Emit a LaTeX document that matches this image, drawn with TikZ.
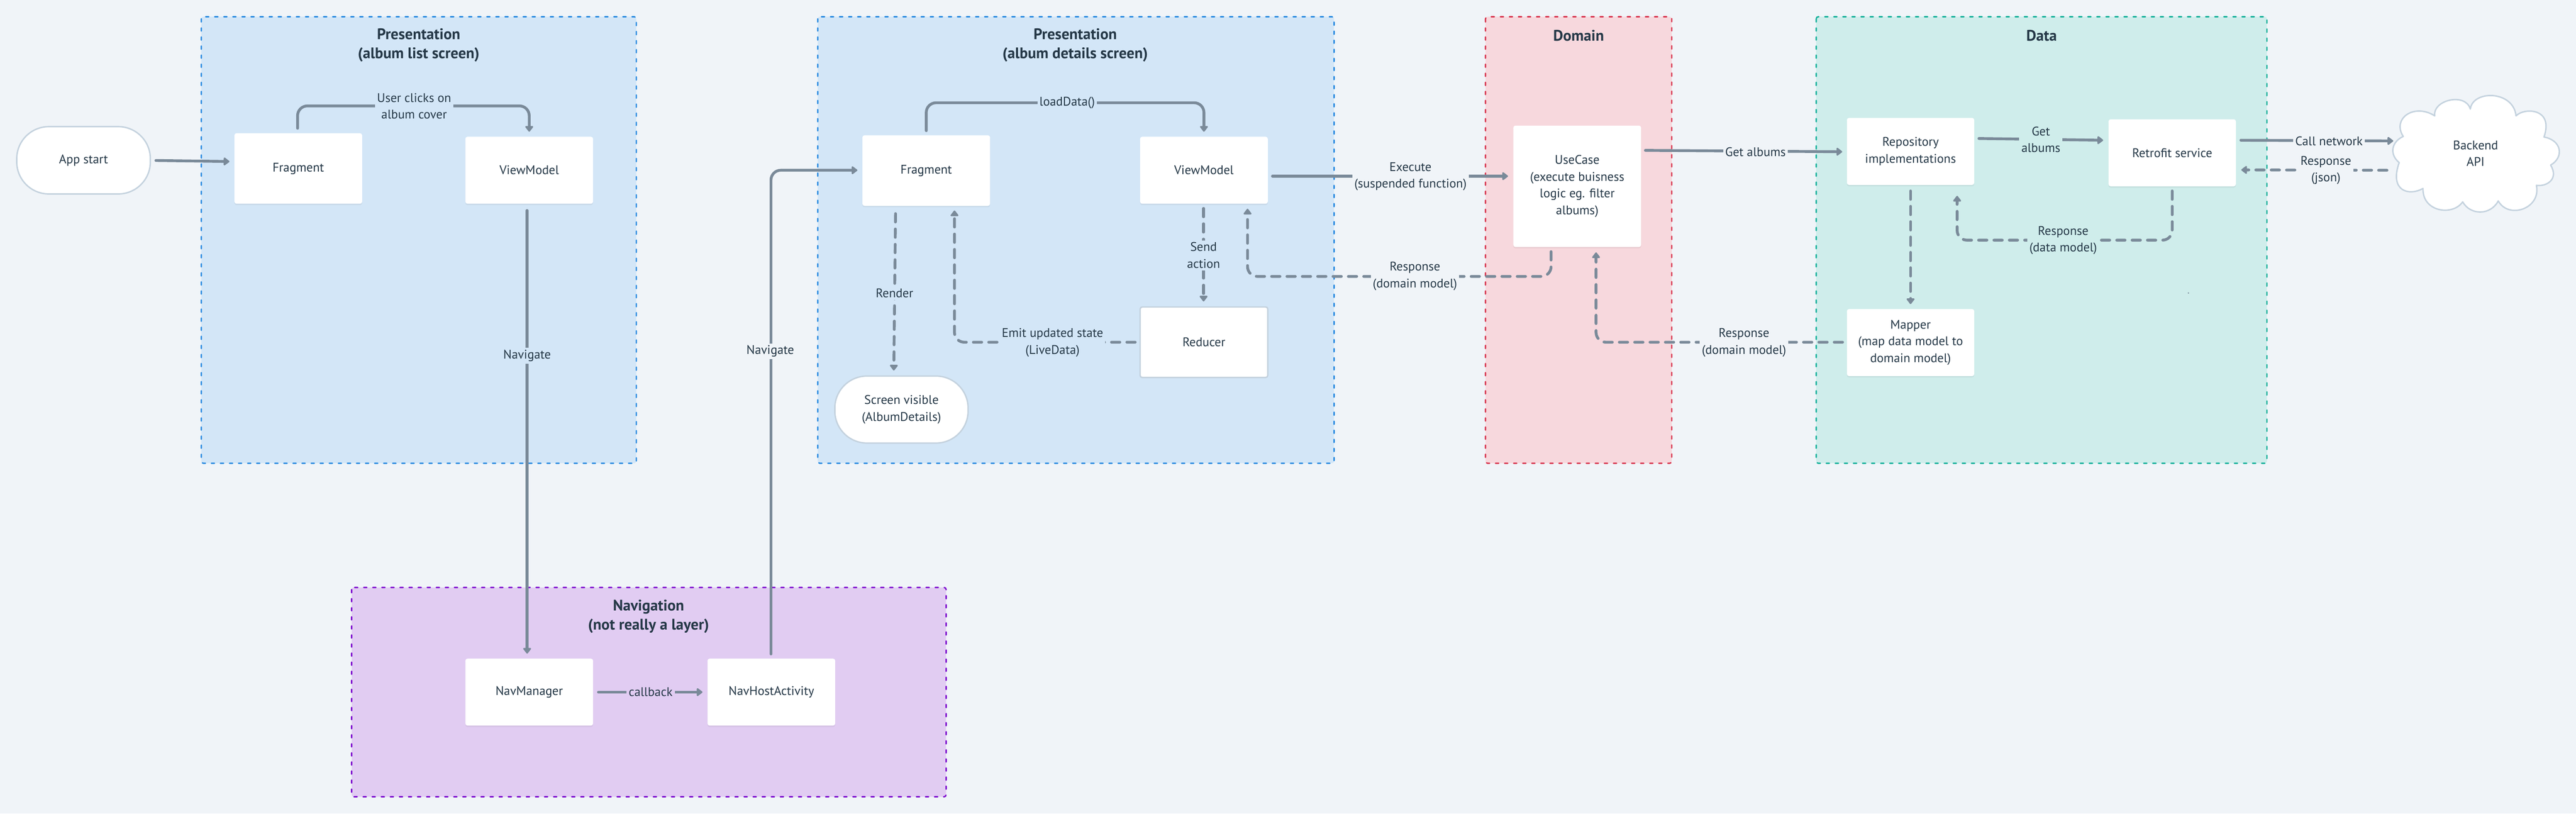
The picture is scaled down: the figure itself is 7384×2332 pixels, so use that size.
\documentclass[tikz,border=0pt]{standalone}
\usepackage{fontspec}
\setmainfont{PT Sans}
\usetikzlibrary{arrows.meta,calc,shadows}
\definecolor{bgc}{HTML}{F0F4F8}
\definecolor{pblue}{HTML}{D3E6F7}
\definecolor{bblue}{HTML}{2B8BE0}
\definecolor{ppink}{HTML}{F7D8DD}
\definecolor{bpink}{HTML}{D8364F}
\definecolor{pteal}{HTML}{CFEDEB}
\definecolor{bteal}{HTML}{14B09A}
\definecolor{ppurp}{HTML}{E1CCF2}
\definecolor{bpurp}{HTML}{7F0FCF}
\definecolor{cline}{HTML}{7A8A99}
\definecolor{ctext}{HTML}{243746}
\definecolor{cbord}{HTML}{C4D2DE}
\tikzset{
  panel/.style={line width=2pt,dash pattern=on 4.5pt off 8.5pt,line cap=round,rounded corners=3pt},
  boxn/.style={fill=white,rounded corners=3pt,inner sep=0pt,align=center,text=ctext,
    font=\fontsize{18}{24}\selectfont,
    drop shadow={shadow xshift=0pt,shadow yshift=-2pt,opacity=.05,fill=black}},
  boxb/.style={draw=cbord,line width=2pt,fill=white,rounded corners=3pt,inner sep=0pt,align=center,text=ctext,
    font=\fontsize{18}{24}\selectfont},
  pill/.style={boxb,rounded corners=46pt},
  ttl/.style={inner sep=0pt,align=center,text=ctext,font=\fontsize{22}{27.5}\selectfont\bfseries},
  lab/.style={inner xsep=3pt,inner ysep=3pt,align=center,text=ctext,font=\fontsize{18}{24}\selectfont},
  conn/.style={draw=cline,line width=4pt,line cap=round,rounded corners=14pt,
    -{Triangle[width=13pt,length=9pt,round]}},
  dconn/.style={conn,dash pattern=on 12pt off 10pt},
}
\begin{document}
\begin{tikzpicture}[x=0.5pt,y=-0.5pt]
\useasboundingbox (0,0) rectangle (7384,2332);
\fill[bgc] (0,0) rectangle (7384,2332);
% panels
\draw[panel,draw=bblue,fill=pblue] (577,48) rectangle (1824,1328);
\draw[panel,draw=bblue,fill=pblue] (2344,48) rectangle (3824,1328);
\draw[panel,draw=bpink,fill=ppink] (4258,48) rectangle (4792,1328);
\draw[panel,draw=bteal,fill=pteal] (5206,48) rectangle (6498,1328);
\draw[panel,draw=bpurp,fill=ppurp] (1008,1684) rectangle (2712,2284);
% titles
\node[ttl] (t1) at (1200,130) {Presentation\\(album list screen)};
\node[ttl] (t2) at (3082,130) {Presentation\\(album details screen)};
\node[ttl] (t3) at (4525,102) {Domain};
\node[ttl] (t4) at (5852,102) {Data};
\node[ttl] (t5) at (1859,1767) {Navigation\\(not really a layer)};
% cloud
\begin{scope}[shift={(5100,0)},x=0.7283pt,y=-0.44645pt]
\draw[draw=cbord,fill=white,line width=2pt,line join=round]
 (1290,372) .. controls (1285,322) and (1350,295) .. (1360,350)
 .. controls (1365,288) and (1445,290) .. (1450,372)
 .. controls (1465,345) and (1525,345) .. (1505,440)
 .. controls (1540,450) and (1545,505) .. (1518,530)
 .. controls (1535,575) and (1510,600) .. (1490,595)
 .. controls (1500,670) and (1435,705) .. (1415,645)
 .. controls (1400,692) and (1360,692) .. (1345,648)
 .. controls (1325,695) and (1265,680) .. (1267,605)
 .. controls (1240,630) and (1200,615) .. (1220,522)
 .. controls (1200,495) and (1205,455) .. (1228,438)
 .. controls (1205,380) and (1250,330) .. (1290,372) -- cycle;
\end{scope}
% boxes
\node[pill,minimum width=191.5pt,minimum height=96.5pt] (app) at (239.5,459.5) {App start};
\node[boxn,minimum width=183pt,minimum height=101pt] (fr1) at (855,483) {Fragment};
\node[boxn,minimum width=183pt,minimum height=96pt] (vm1) at (1517,488) {ViewModel};
\node[boxn,minimum width=183pt,minimum height=96pt] (nm) at (1517,1984) {NavManager};
\node[boxn,minimum width=183pt,minimum height=96pt] (nh) at (2211,1984) {NavHostActivity};
\node[boxn,minimum width=183pt,minimum height=101pt] (fr2) at (2655,489) {Fragment};
\node[boxn,minimum width=183pt,minimum height=96pt] (vm2) at (3451,488) {ViewModel};
\node[boxb,minimum width=183pt,minimum height=101pt] (red) at (3451,981) {Reducer};
\node[pill,minimum width=191pt,minimum height=96pt] (scr) at (2584,1174) {Screen visible\\(AlbumDetails)};
\node[boxn,minimum width=183pt,minimum height=174pt] (uc) at (4521,534) {UseCase\\(execute buisness\\logic eg. filter\\albums)};
\node[boxn,minimum width=182.5pt,minimum height=96pt] (repo) at (5476.5,434) {Repository\\implementations};
\node[boxn,minimum width=182.5pt,minimum height=96pt] (retro) at (6226.5,438) {Retrofit service};
\node[boxn,minimum width=182.5pt,minimum height=96pt] (map) at (5476.5,982) {Mapper\\(map data model to\\domain model)};
\node[inner sep=0pt,align=center,text=ctext,font=\fontsize{18}{24}\selectfont,minimum width=240.5pt,minimum height=169pt] (api) at (7096,440) {Backend\\API};
% connectors
\draw[conn] ($(app.east)+(14,0.5)$) -- ($(fr1.west)+(-14,-20)$);
\draw[conn] ($(fr1.north)+(-2,-14)$) -- ++(0,-64) -| ($(vm1.north)+(0,-14)$);
\draw[conn] ($(vm1.south)+(-6,19)$) -- ($(nm.north)+(-6,-14)$);
\draw[conn] ($(nh.north)+(-1,-13)$) |- ($(fr2.west)+(-14,-1)$);
\draw[conn] ($(nm.east)+(15,0)$) -- ($(nh.west)+(-14,0)$);
\draw[conn] ($(fr2.north)+(0,-13)$) -- ++(0,-80) -| ($(vm2.north)+(0,-14)$);
\draw[dconn] ($(fr2.south)+(-88,22)$) -- ($(scr.north)+(-22,-14)$);
\draw[dconn] ($(red.west)+(-12,0)$) -| ($(fr2.south)+(81,13)$);
\draw[dconn] ($(vm2.south)+(-1,13)$) -- ($(red.north)+(-1,-14)$);
\draw[conn] ($(vm2.east)+(13,17)$) -- ($(uc.west)+(-15,-29)$);
\draw[dconn] ($(uc.south)+(-75,13)$) -- ++(0,71) -| ($(vm2.south)+(125,14)$);
\draw[conn] ($(uc.east)+(12,-103)$) -- ($(repo.west)+(-13,1)$);
\draw[conn] ($(repo.east)+(13,-37)$) -- ($(retro.west)+(-15,-36)$);
\draw[dconn] ($(repo.south)+(0,17)$) -- ($(map.north)+(0,-14)$);
\draw[dconn] ($(retro.south)+(0,13)$) -- ++(0,141) -| ($(repo.south)+(133.5,31)$);
\draw[dconn] ($(map.west)+(-12,-1)$) -| ($(uc.south)+(54,15)$);
\draw[conn] ($(retro.east)+(14,-36)$) -- ($(api.west)+(5,-36)$);
\draw[dconn] ($(api.west)+(-13,48)$) -- ($(retro.east)+(15,49)$);
% labels
\node[lab,fill=pblue] (l1) at (1187,304) {User clicks on\\album cover};
\node[lab,fill=pblue] (l2) at (1511,1020) {Navigate};
\node[lab,fill=bgc] (l3) at (2208,1007) {Navigate};
\node[lab,fill=ppurp] (l4) at (1865,1984) {callback};
\node[lab,fill=pblue] (l5) at (3059,295) {loadData()};
\node[lab,fill=pblue] (l6) at (2564,840) {Render};
\node[lab,fill=pblue] (l7) at (3017,982) {Emit updated state\\(LiveData)};
\node[lab,fill=pblue] (l8) at (3450,732) {Send\\action};
\node[lab,fill=bgc] (l9) at (4043,506) {Execute\\(suspended function)};
\node[lab,fill=bgc] (l10) at (4056,792) {Response\\(domain model)};
\node[lab,fill=bgc] (l11) at (5032,435) {Get albums};
\node[lab,fill=pteal] (l12) at (5850,400) {Get\\albums};
\node[lab,fill=pteal] (l13) at (5914,689) {Response\\(data model)};
\node[lab,fill=bgc] (l14) at (4999,982) {Response\\(domain model)};
\node[lab,fill=bgc] (l15) at (6676,404) {Call network};
\node[lab,fill=bgc] (l16) at (6667,488) {Response\\(json)};
% stray dot
\fill[cline] (6273,840) circle (1pt);
\end{tikzpicture}
\end{document}
